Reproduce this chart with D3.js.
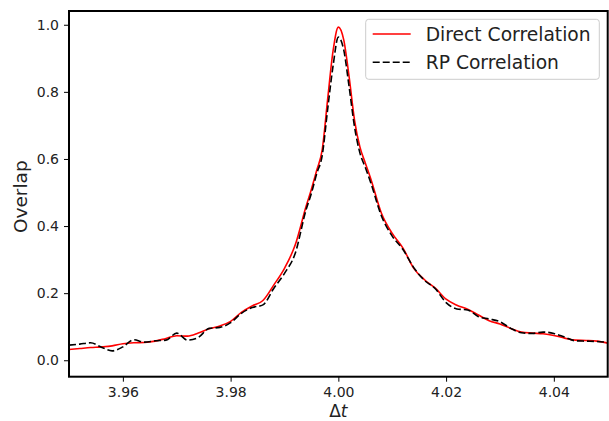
<!DOCTYPE html>
<html>
<head>
<meta charset="utf-8">
<script src="https://cdn.jsdelivr.net/npm/d3@7"></script>
<style>
  body { margin: 0; background: #fff; }
  svg { display: block; font-family: "DejaVu Sans", sans-serif; }
</style>
</head>
<body>
<svg id="chart"></svg>
<script>
// time offsets (Δt)
const dt = [
  3.950, 3.952, 3.954, 3.956, 3.958, 3.960, 3.962, 3.964, 3.966, 3.968,
  3.970, 3.972, 3.974, 3.976, 3.978, 3.980, 3.982, 3.984, 3.986, 3.988,
  3.990, 3.992, 3.994, 3.995, 3.996, 3.997, 3.998, 3.999, 4.000, 4.001,
  4.002, 4.003, 4.004, 4.005, 4.006, 4.008, 4.010, 4.012, 4.014, 4.016,
  4.018, 4.020, 4.022, 4.024, 4.026, 4.028, 4.030, 4.032, 4.034, 4.036,
  4.038, 4.040, 4.042, 4.044, 4.046, 4.048, 4.050
];

const directCorr = [
  0.032, 0.035, 0.038, 0.040, 0.043, 0.049, 0.052, 0.053, 0.057, 0.065,
  0.073, 0.072, 0.081, 0.094, 0.102, 0.116, 0.143, 0.162, 0.178, 0.224,
  0.274, 0.344, 0.458, 0.510, 0.567, 0.627, 0.776, 0.920, 0.993, 0.955,
  0.845, 0.716, 0.636, 0.588, 0.542, 0.438, 0.378, 0.334, 0.274, 0.240,
  0.215, 0.182, 0.164, 0.152, 0.135, 0.118, 0.108, 0.095, 0.084, 0.081,
  0.079, 0.074, 0.066, 0.060, 0.059, 0.057, 0.051
];

const rpCorr = [
  0.045, 0.048, 0.052, 0.039, 0.028, 0.040, 0.061, 0.054, 0.058, 0.060,
  0.081, 0.060, 0.068, 0.095, 0.098, 0.112, 0.140, 0.157, 0.165, 0.214,
  0.259, 0.319, 0.448, 0.498, 0.557, 0.610, 0.746, 0.875, 0.963, 0.925,
  0.815, 0.696, 0.618, 0.575, 0.530, 0.430, 0.370, 0.330, 0.276, 0.238,
  0.213, 0.172, 0.153, 0.150, 0.130, 0.123, 0.115, 0.095, 0.082, 0.080,
  0.084, 0.080, 0.069, 0.058, 0.057, 0.056, 0.053
];

const xTicks = [3.96, 3.98, 4.00, 4.02, 4.04];
const yTicks = [0.0, 0.2, 0.4, 0.6, 0.8, 1.0];

const seriesNames = ["Direct Correlation", "RP Correlation"];

const width = 609, height = 421;
const margin = { left: 69, right: 1.3, top: 11, bottom: 44.3 };

const svg = d3.select("#chart").attr("width", width).attr("height", height);

const x = d3.scaleLinear()
  .domain([3.95, 4.05])
  .range([margin.left, width - margin.right]);

const y = d3.scaleLinear()
  .domain([-0.049, 1.041])
  .range([height - margin.bottom, margin.top]);

svg.append("defs").append("clipPath").attr("id", "plotclip")
  .append("rect")
  .attr("x", margin.left).attr("y", margin.top)
  .attr("width", width - margin.left - margin.right)
  .attr("height", height - margin.top - margin.bottom);

// axes
const xAxis = svg.append("g")
  .attr("transform", `translate(0,${height - margin.bottom})`)
  .call(d3.axisBottom(x).tickValues(xTicks).tickFormat(d3.format(".2f")).tickSize(5).tickPadding(5));

const yAxis = svg.append("g")
  .attr("transform", `translate(${margin.left},0)`)
  .call(d3.axisLeft(y).tickValues(yTicks).tickFormat(d3.format(".1f")).tickSize(5).tickPadding(5));

[xAxis, yAxis].forEach(g => {
  g.select(".domain").remove();
  g.selectAll(".tick line").attr("stroke", "#000").attr("stroke-width", 1);
  g.selectAll(".tick text")
    .attr("fill", "#222")
    .style("font-size", "14px")
    .style("font-family", "DejaVu Sans, sans-serif");
});

// lines
const line = (vals) => d3.line()
  .x((d, i) => x(dt[i]))
  .y(d => y(d))
  .curve(d3.curveMonotoneX)(vals);

const plot = svg.append("g").attr("clip-path", "url(#plotclip)");

plot.append("path")
  .attr("fill", "none")
  .attr("stroke", "red")
  .attr("stroke-width", 1.6)
  .attr("d", line(directCorr));

plot.append("path")
  .attr("fill", "none")
  .attr("stroke", "#000")
  .attr("stroke-width", 1.6)
  .attr("stroke-dasharray", "7,3")
  .attr("d", line(rpCorr));

// frame
svg.append("rect")
  .attr("x", margin.left)
  .attr("y", margin.top)
  .attr("width", width - margin.left - margin.right)
  .attr("height", height - margin.top - margin.bottom)
  .attr("fill", "none")
  .attr("stroke", "#000")
  .attr("stroke-width", 2);

// labels
svg.append("text")
  .attr("x", (margin.left + width - margin.right) / 2)
  .attr("y", 416.5)
  .attr("text-anchor", "middle")
  .style("font-size", "17px")
  .attr("fill", "#222")
  .html('Δ<tspan font-style="italic">t</tspan>');

svg.append("text")
  .attr("transform", `translate(27,196.7) rotate(-90)`)
  .attr("text-anchor", "middle")
  .style("font-size", "18.5px")
  .attr("fill", "#222")
  .text("Overlap");

// legend
const legend = svg.append("g");
legend.append("rect")
  .attr("x", 365.7).attr("y", 19.3)
  .attr("width", 233.6).attr("height", 60)
  .attr("rx", 3)
  .attr("fill", "#fff")
  .attr("fill-opacity", 0.8)
  .attr("stroke", "#ccc")
  .attr("stroke-width", 1);

const legendStyles = [
  { stroke: "red", dash: null },
  { stroke: "#000", dash: "7,3" }
];

seriesNames.forEach((name, i) => {
  const ly = 34 + i * 28.3;
  legend.append("line")
    .attr("x1", 372.7).attr("x2", 410.7)
    .attr("y1", ly).attr("y2", ly)
    .attr("stroke", legendStyles[i].stroke)
    .attr("stroke-width", 1.6)
    .attr("stroke-dasharray", legendStyles[i].dash);
  legend.append("text")
    .attr("x", 425.7).attr("y", ly + 6.7)
    .style("font-size", "18.7px")
    .attr("fill", "#222")
    .text(name);
});
</script>
</body>
</html>
